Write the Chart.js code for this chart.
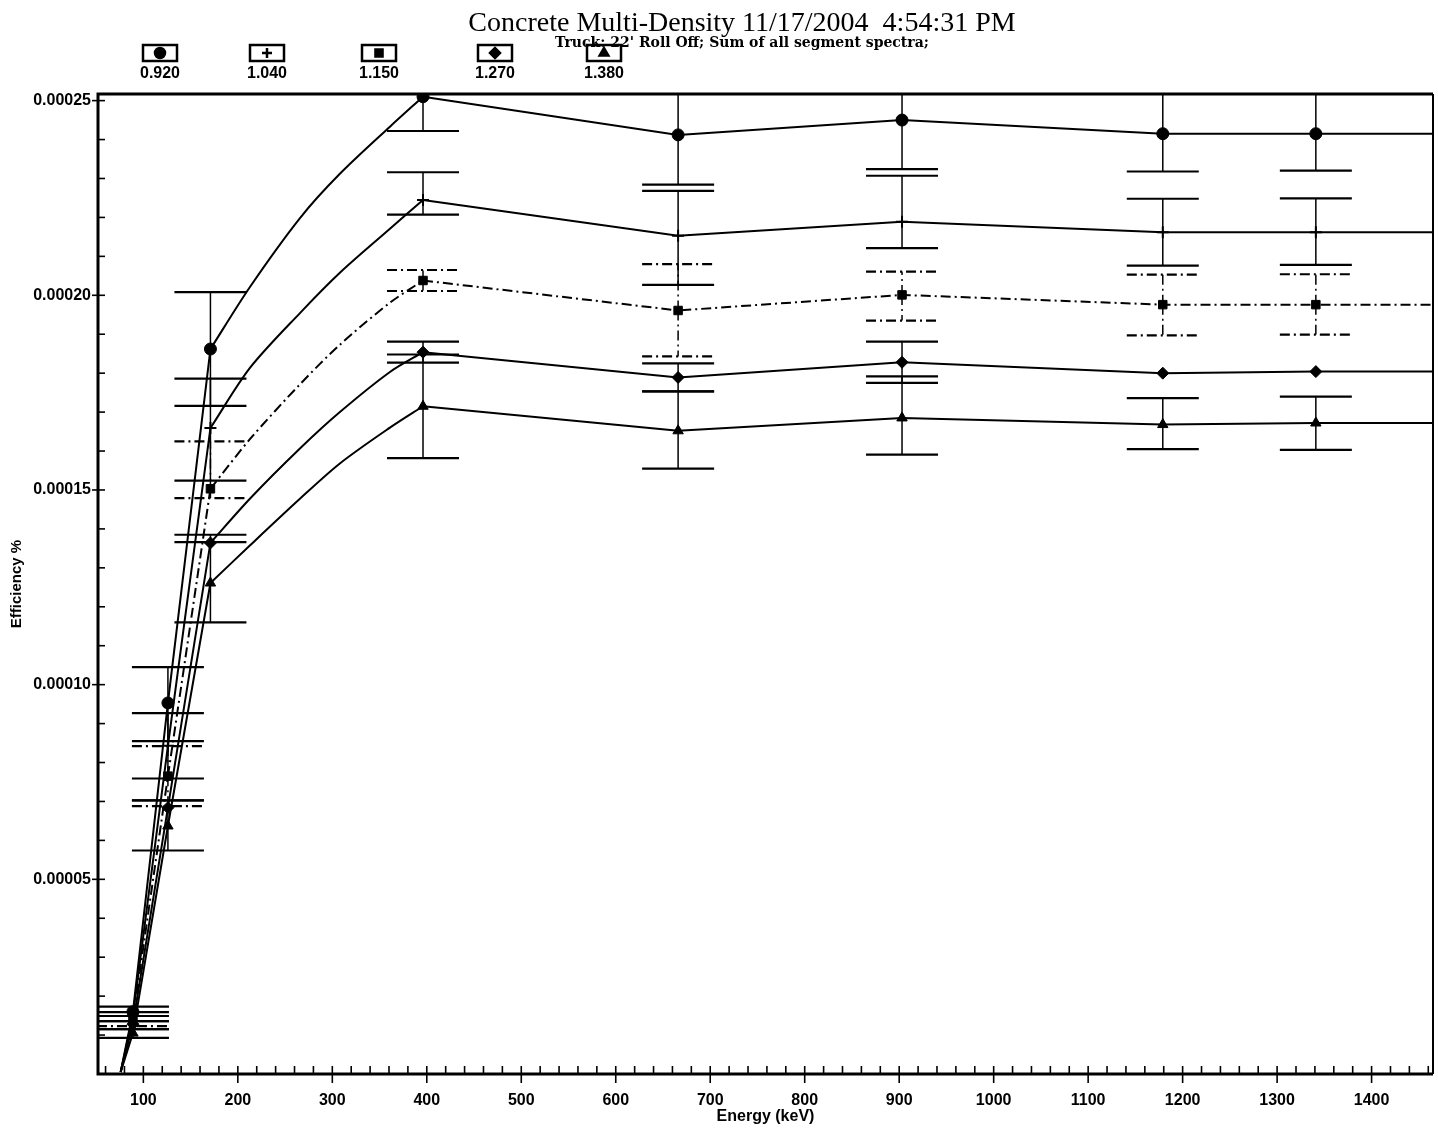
<!DOCTYPE html>
<html>
<head>
<meta charset="utf-8">
<title>Concrete Multi-Density</title>
<script src="https://cdn.jsdelivr.net/npm/chart.js@4.4.1/dist/chart.umd.min.js"></script>
<style>
  html, body { margin: 0; padding: 0; background: #fff; }
  #wrap { width: 1438px; height: 1130px; }
</style>
</head>
<body>
<div id="wrap"><canvas id="effChart" width="1438" height="1130"></canvas></div>
<script>
// Measured peaks (keV) as plotted
const energies = [89, 126, 171, 396, 666, 903, 1179, 1341];
const densities = ['0.920', '1.040', '1.150', '1.270', '1.380'];

// Efficiency per density at the measured peaks
const eff092 = [0.0000160, 0.0000953, 0.0001862, 0.0002510, 0.0002412, 0.0002450, 0.0002415, 0.0002415];
const eff104 = [0.0000150, 0.0000843, 0.0001659, 0.0002245, 0.0002153, 0.0002189, 0.0002162, 0.0002162];
const eff115 = [0.0000140, 0.0000765, 0.0001503, 0.0002038, 0.0001961, 0.0002001, 0.0001976, 0.0001976];
const eff127 = [0.0000128, 0.0000684, 0.0001364, 0.0001854, 0.0001789, 0.0001828, 0.0001800, 0.0001804];
const eff138 = [0.0000105, 0.0000637, 0.0001261, 0.0001715, 0.0001652, 0.0001685, 0.0001668, 0.0001672];

// Error bar ends (upper / lower) per density, null where none is visible
const hi092 = [0.0000173, 0.0001045, 0.0002008, 0.0002600, 0.0002540, 0.0002576, 0.0002560, 0.0002560];
const lo092 = [0.0000149, 0.0000855, 0.0001716, 0.0002422, 0.0002284, 0.0002324, 0.0002318, 0.0002320];
const hi104 = [0.0000159, 0.0000927, 0.0001786, 0.0002316, 0.0002268, 0.0002307, 0.0002248, 0.0002249];
const lo104 = [0.0000136, 0.0000759, 0.0001524, 0.0002207, 0.0002027, 0.0002121, 0.0002076, 0.0002078];
const hi115 = [0.0000149, 0.0000842, 0.0001625, 0.0002065, 0.0002080, 0.0002061, 0.0002053, 0.0002054];
const lo115 = [0.0000123, 0.0000688, 0.0001479, 0.0002011, 0.0001843, 0.0001935, 0.0001897, 0.0001899];
const hi127 = [0.0000136, 0.0000703, 0.0001385, 0.0001881, 0.0001825, 0.0001881, null, null];
const lo127 = [0.0000115, null, null, 0.0001827, 0.0001753, 0.0001775, null, null];
const hi138 = [0.0000115, 0.0000703, 0.0001366, 0.0001848, 0.0001753, 0.0001792, 0.0001736, 0.0001740];
const lo138 = [0.0000093, 0.0000574, 0.0001160, 0.0001582, 0.0001555, 0.0001591, 0.0001605, 0.0001603];

// Fit curve read between / beyond the peaks (no markers)
const fitEnergies = [76, 213, 266, 308, 361, 1465];
const fit092 = [0.0000005, 0.0002022, 0.0002199, 0.0002312, 0.0002433, 0.0002415];
const fit104 = [0.0000005, 0.0001814, 0.0001955, 0.0002058, 0.0002171, 0.0002162];
const fit115 = [0.0000005, 0.0001631, 0.0001772, 0.0001873, 0.0001981, 0.0001976];
const fit127 = [0.0000005, 0.0001478, 0.0001607, 0.0001700, 0.0001803, 0.0001804];
const fit138 = [0.0000005, 0.0001358, 0.0001478, 0.0001568, 0.0001660, 0.0001672];

// Axis ticks
const xTickValues = [100, 200, 300, 400, 500, 600, 700, 800, 900, 1000, 1100, 1200, 1300, 1400];
const yTickValues = [0.00005, 0.00010, 0.00015, 0.00020, 0.00025];
const yTickLabels = ['0.00005', '0.00010', '0.00015', '0.00020', '0.00025'];

// the fit bends smoothly between these two peaks, straight segments elsewhere
const BEND_FROM = energies[2];
const BEND_TO = energies[3];

const SANS = '"Liberation Sans", Arial, sans-serif';
const SERIF = '"Liberation Serif", "Times New Roman", serif';

const effs = [eff092, eff104, eff115, eff127, eff138];
const fits = [fit092, fit104, fit115, fit127, fit138];
const errHi = [hi092, hi104, hi115, hi127, hi138];
const errLo = [lo092, lo104, lo115, lo127, lo138];
const styles = ['circle', 'cross', 'rect', 'rectRot', 'triangle'];
const dashes = [[], [], [10, 4, 2, 4], [], []];

function pointsFor(i) {
  const measured = energies.map((e, k) => ({ x: e, y: effs[i][k], peak: true }));
  const curve = fitEnergies.map((e, k) => ({ x: e, y: fits[i][k], peak: false }));
  return measured.concat(curve).sort((a, b) => a.x - b.x);
}

// markers + straight segments
function makeSeries(i) {
  return {
    label: densities[i],
    data: pointsFor(i),
    borderColor: '#000',
    backgroundColor: '#000',
    borderWidth: 2,
    borderDash: dashes[i],
    segment: {
      borderColor: ctx => (ctx.p0.parsed.x >= BEND_FROM && ctx.p0.parsed.x < BEND_TO) ? 'rgba(0,0,0,0)' : '#000'
    },
    pointStyle: styles[i],
    pointRadius: ctx => (ctx.raw && ctx.raw.peak) ? 6 : 0,
    pointBorderWidth: styles[i] === 'cross' ? 2 : 1,
    tension: 0,
    fill: false
  };
}

// smooth bend of the same fit
function makeCurve(i) {
  return {
    label: densities[i] + ' fit',
    data: pointsFor(i).filter(p => p.x >= BEND_FROM && p.x <= BEND_TO),
    borderColor: '#000',
    borderWidth: 2,
    borderDash: dashes[i],
    pointRadius: 0,
    tension: 0.3,
    fill: false
  };
}

// Error bars, drawn through the scales
const errorBars = {
  id: 'errorBars',
  afterDatasetsDraw(chart) {
    const { ctx, chartArea: a, scales: { x, y } } = chart;
    ctx.save();
    ctx.beginPath();
    ctx.rect(a.left, a.top, a.right - a.left, a.bottom - a.top);
    ctx.clip();
    ctx.strokeStyle = '#000';
    effs.forEach((vals, d) => {
      ctx.setLineDash(dashes[d]);
      energies.forEach((e, k) => {
        const px = x.getPixelForValue(e);
        const py = y.getPixelForValue(vals[k]);
        [errHi[d][k], errLo[d][k]].forEach(end => {
          if (end === null) return;
          const ey = y.getPixelForValue(end);
          ctx.lineWidth = 1.5;
          ctx.beginPath();
          ctx.moveTo(px, py);
          ctx.lineTo(px, ey);
          ctx.stroke();
          ctx.lineWidth = 2.2;
          ctx.beginPath();
          ctx.moveTo(px - 36, ey);
          ctx.lineTo(px + 36, ey);
          ctx.stroke();
        });
      });
    });
    ctx.restore();
  }
};

// Frame, tick marks, titles and legend boxes
const decorations = {
  id: 'decorations',
  afterDraw(chart) {
    const { ctx, chartArea: a, scales: { x, y } } = chart;
    ctx.save();
    ctx.strokeStyle = '#000';
    ctx.fillStyle = '#000';
    ctx.setLineDash([]);

    ctx.lineWidth = 3;
    ctx.beginPath();
    ctx.moveTo(a.right, a.top);
    ctx.lineTo(a.left, a.top);
    ctx.lineTo(a.left, a.bottom);
    ctx.lineTo(a.right, a.bottom);
    ctx.stroke();
    ctx.lineWidth = 2;
    ctx.beginPath();
    ctx.moveTo(a.right, a.top);
    ctx.lineTo(a.right, a.bottom);
    ctx.stroke();

    // x ticks every 20 keV
    ctx.lineWidth = 1.6;
    for (let e = 60; e <= x.max; e += 20) {
      const px = x.getPixelForValue(e);
      const major = e % 100 === 0;
      ctx.beginPath();
      ctx.moveTo(px, a.bottom - 8);
      ctx.lineTo(px, major ? a.bottom + 9 : a.bottom);
      ctx.stroke();
    }
    // y ticks every 0.00001
    for (let k = 1; k <= 25; k++) {
      const py = y.getPixelForValue(k * 0.00001);
      const major = k % 5 === 0;
      ctx.beginPath();
      ctx.moveTo(major ? a.left - 6 : a.left, py);
      ctx.lineTo(a.left + 7, py);
      ctx.stroke();
    }

    // titles
    ctx.textAlign = 'center';
    ctx.textBaseline = 'alphabetic';
    ctx.font = '28px ' + SERIF;
    ctx.fillText('Concrete Multi-Density 11/17/2004  4:54:31 PM', 742, 31);
    ctx.font = 'bold 14px "DejaVu Serif", serif';
    ctx.fillText("Truck: 22' Roll Off; Sum of all segment spectra;", 742, 47);

    // legend: marker in a box, density below
    const legendX = [160, 267, 379, 495, 604];
    densities.forEach((label, i) => {
      const cx = legendX[i];
      ctx.lineWidth = 2.5;
      ctx.strokeRect(cx - 17, 45, 34, 16);
      Chart.helpers.drawPoint(ctx, {
        pointStyle: styles[i],
        radius: 5,
        borderWidth: styles[i] === 'cross' ? 2 : 1
      }, cx, 53);
      if (styles[i] !== 'cross') ctx.fill();
      ctx.font = 'bold 16px ' + SANS;
      ctx.fillText(label, cx, 78);
    });
    ctx.restore();
  }
};

const chart = new Chart(document.getElementById('effChart'), {
  type: 'line',
  data: {
    datasets: [0, 1, 2, 3, 4].map(makeSeries).concat([0, 1, 2, 3, 4].map(makeCurve))
  },
  options: {
    responsive: false,
    animation: false,
    events: [],
    layout: { padding: { top: 94, right: 5, bottom: 0, left: 0 } },
    plugins: {
      legend: { display: false },
      title: { display: false },
      tooltip: { enabled: false }
    },
    scales: {
      x: {
        type: 'linear',
        min: 52,
        max: 1465,
        grid: { display: false, drawTicks: false },
        border: { display: false },
        afterBuildTicks: s => { s.ticks = xTickValues.map(v => ({ value: v })); },
        afterFit: s => { s.height = 56; },
        ticks: {
          autoSkip: false,
          maxRotation: 0,
          padding: 17,
          color: '#000',
          font: { family: SANS, size: 16, weight: 'bold' },
          callback: v => String(v)
        },
        title: {
          display: true,
          text: 'Energy (keV)',
          color: '#000',
          font: { family: SANS, size: 16, weight: 'bold' },
          padding: { top: 0, bottom: 4 }
        }
      },
      y: {
        type: 'linear',
        min: 0,
        max: 0.0002517,
        grid: { display: false, drawTicks: false },
        border: { display: false },
        afterBuildTicks: s => { s.ticks = yTickValues.map(v => ({ value: v })); },
        afterFit: s => { s.width = 98; },
        ticks: {
          padding: 7,
          color: '#000',
          font: { family: SANS, size: 16, weight: 'bold' },
          callback: (v, i) => yTickLabels[i]
        },
        title: {
          display: true,
          text: 'Efficiency %',
          color: '#000',
          font: { family: SANS, size: 15, weight: 'bold' },
          padding: { top: 8, bottom: 0 }
        }
      }
    }
  },
  plugins: [errorBars, decorations]
});
</script>
</body>
</html>
